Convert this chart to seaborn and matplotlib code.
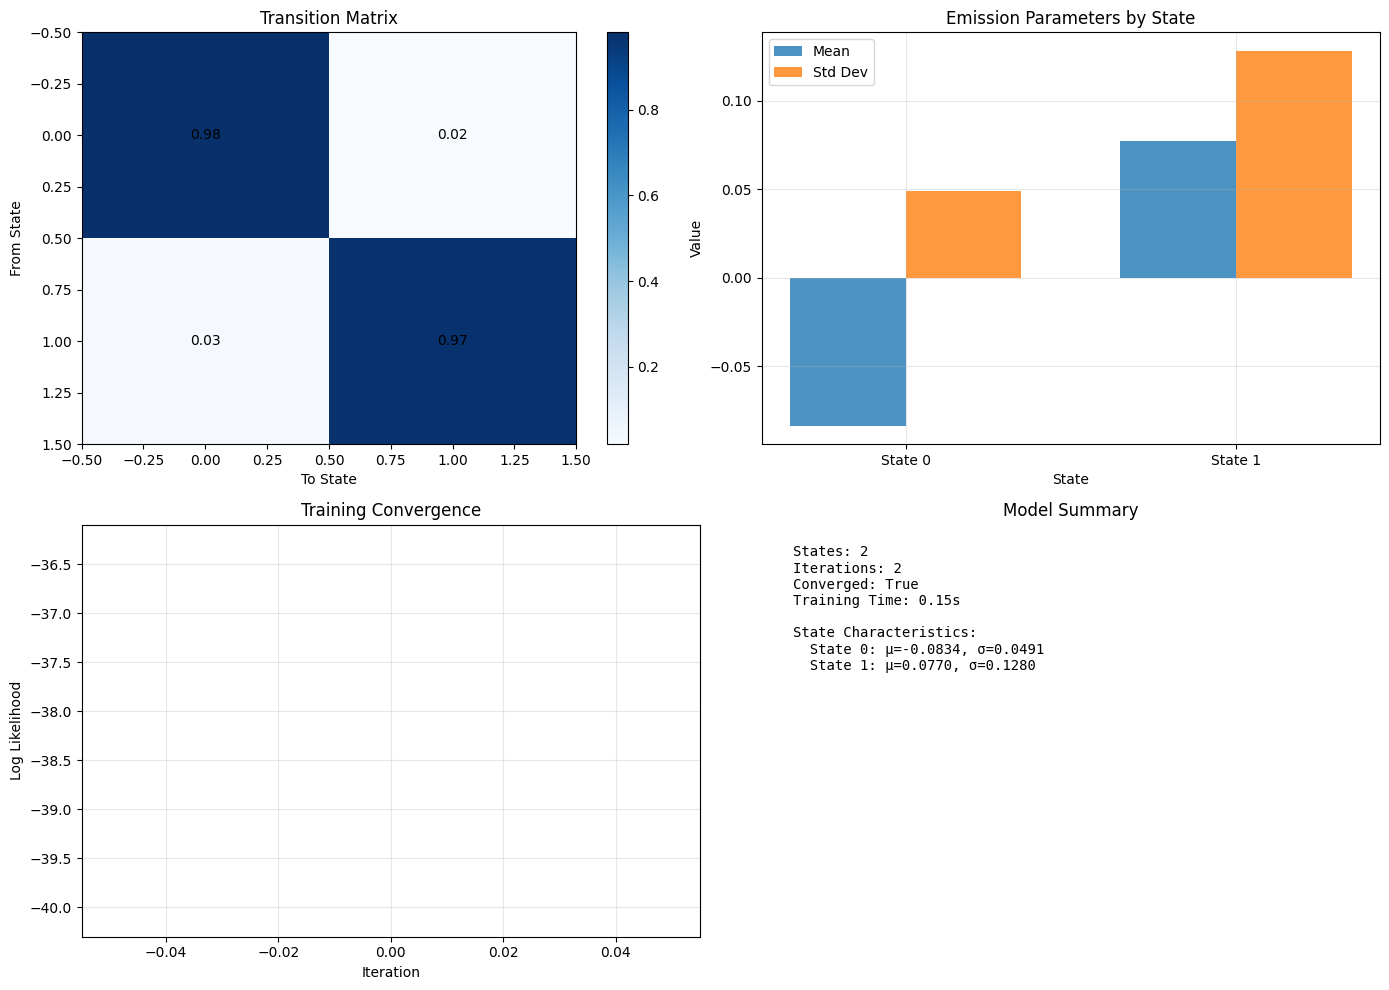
import numpy as np
import pandas as pd
import seaborn as sns
import matplotlib
matplotlib.use('Agg')
import matplotlib.pyplot as plt

# данные модели
trans_matrix = [[0.98, 0.02],
                [0.03, 0.97]]
state_names = ['State 0', 'State 1']
means = [-0.0834, 0.0770]
stds = [0.0491, 0.1280]
iterations = [0]
log_likelihood = [-38.2]
n_states = 2
n_iter = 2
converged = True
train_time = 0.15

fig, axes = plt.subplots(2, 2, figsize=(14, 10), dpi=100)

# матрица переходов
ax = axes[0, 0]
tm = np.array(trans_matrix)
im = ax.imshow(tm, cmap='Blues', aspect='auto')
for i in range(tm.shape[0]):
    for j in range(tm.shape[1]):
        ax.text(j, i, f'{tm[i, j]:.2f}', ha='center', va='center', color='black')
fig.colorbar(im, ax=ax)
ax.set_title('Transition Matrix')
ax.set_xlabel('To State')
ax.set_ylabel('From State')

# параметры эмиссии
ax = axes[0, 1]
df_em = pd.DataFrame({
    'state': state_names * 2,
    'value': means + stds,
    'param': ['Mean'] * 2 + ['Std Dev'] * 2,
})
sns.barplot(data=df_em, x='state', y='value', hue='param', ax=ax,
            palette=['#1f77b4', '#ff7f0e'], width=0.7, alpha=0.8,
            errorbar=None, saturation=1, linewidth=0, edgecolor='none')
ax.set_xlim(-0.435, 1.435)
ax.set_title('Emission Parameters by State')
ax.set_xlabel('State')
ax.set_ylabel('Value')
ax.legend(loc='upper left')
ax.grid(True, alpha=0.3)

# сходимость
ax = axes[1, 0]
sns.lineplot(x=iterations, y=log_likelihood, ax=ax, color='b')
ax.set_title('Training Convergence')
ax.set_xlabel('Iteration')
ax.set_ylabel('Log Likelihood')
ax.grid(True, alpha=0.3)

# сводка
ax = axes[1, 1]
ax.axis('off')
summary = (f"States: {n_states}\n"
           f"Iterations: {n_iter}\n"
           f"Converged: {converged}\n"
           f"Training Time: {train_time:.2f}s\n"
           f"\nState Characteristics:\n")
for k in range(n_states):
    summary += f"  State {k}: μ={means[k]:.4f}, σ={stds[k]:.4f}\n"
ax.text(0.05, 0.95, summary, transform=ax.transAxes, fontsize=10,
        va='top', fontfamily='monospace')
ax.set_title('Model Summary')

plt.tight_layout()
plt.savefig('out.png', dpi=100, bbox_inches='tight')
